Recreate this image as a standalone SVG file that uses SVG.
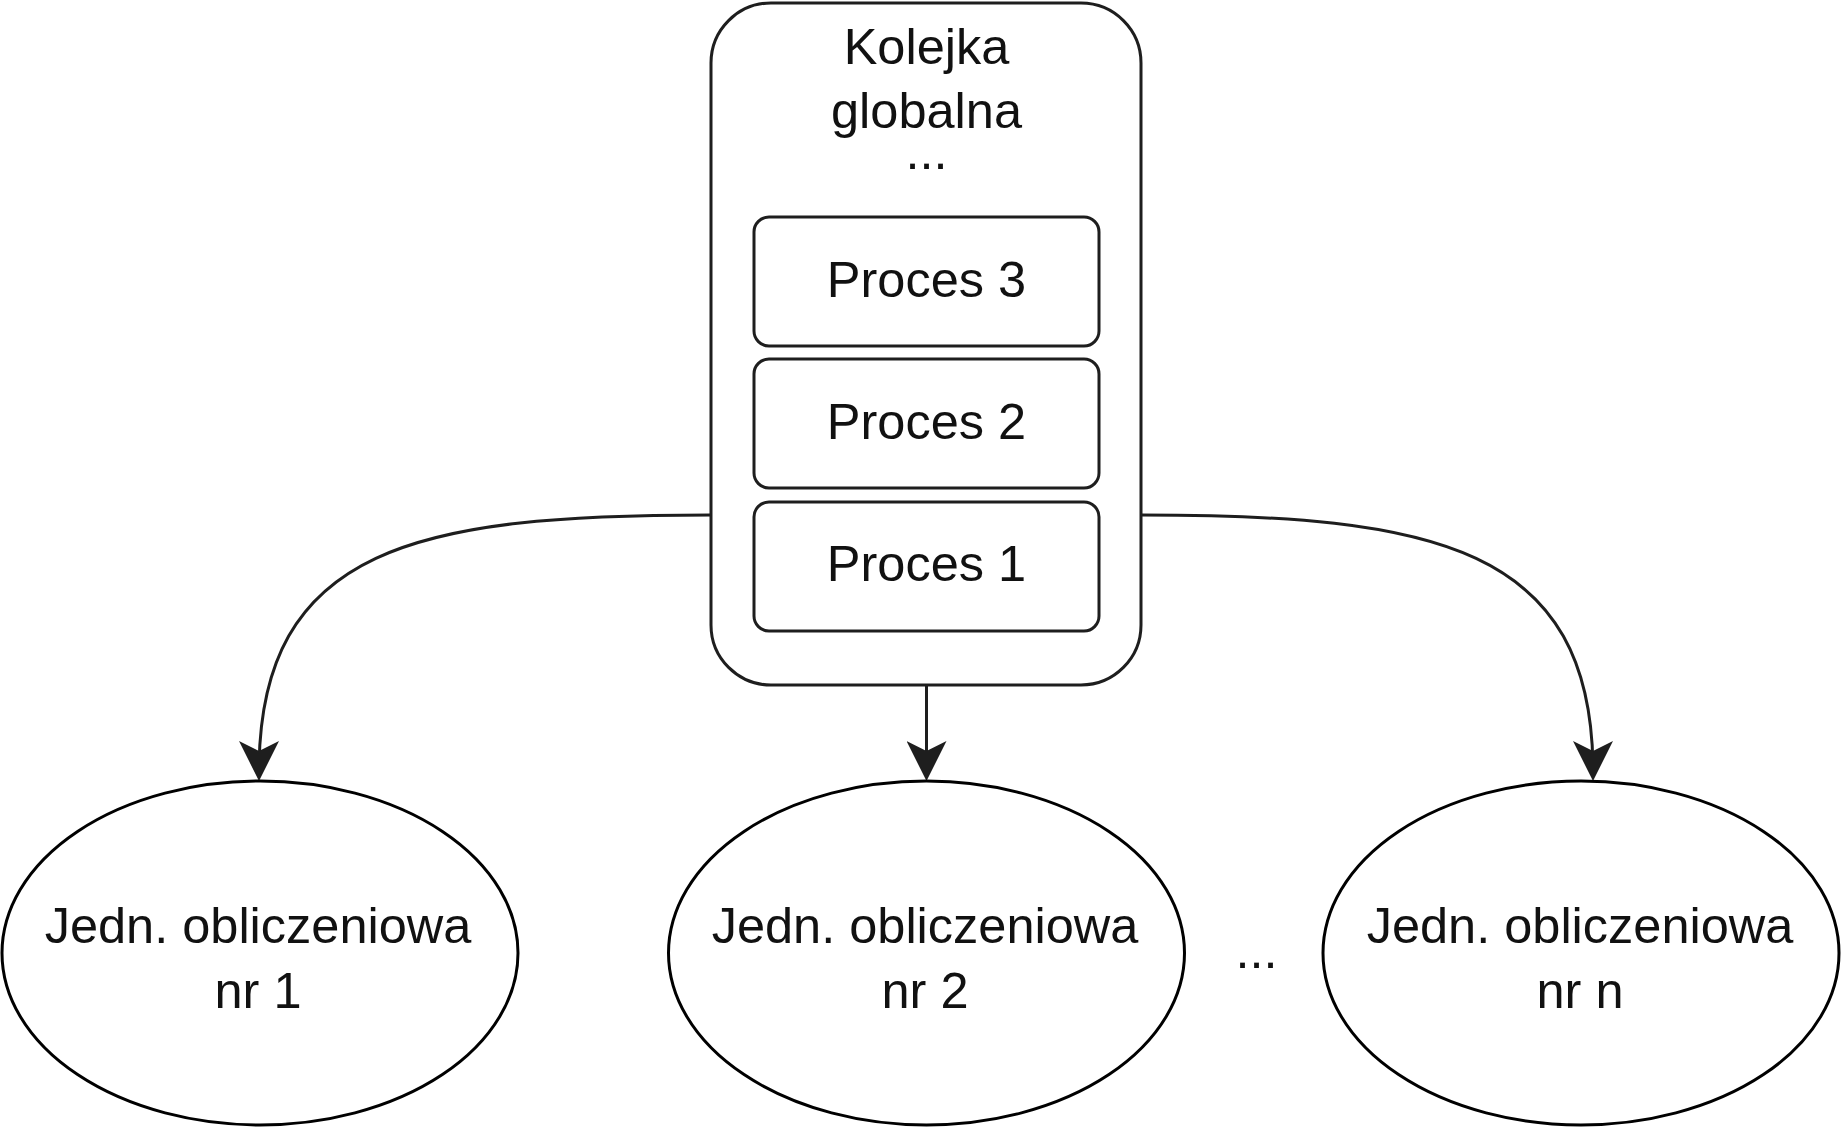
<svg xmlns="http://www.w3.org/2000/svg" width="1842" height="1128" viewBox="0 0 1842 1128">
  <style>
    .box { fill: #ffffff; stroke: #1e1e1e; stroke-width: 3; }
    .ell { fill: #ffffff; stroke: #000000; stroke-width: 3; }
    .edge { fill: none; stroke: #1e1e1e; stroke-width: 3; }
    .t { font-family: "Liberation Sans", Arial, sans-serif; font-size: 50.5px; fill: #111111; text-anchor: middle; }
  </style>
  <defs>
    <marker id="arrow" markerUnits="userSpaceOnUse" viewBox="0 0 40 40" markerWidth="40" markerHeight="40" refX="31" refY="20" orient="auto">
      <path d="M40,20 L0,0 L10,20 L0,40 Z" fill="#1e1e1e"/>
    </marker>
  </defs>
  <rect width="1842" height="1128" fill="#ffffff"/>

  <g id="queue">
    <rect class="box" x="711" y="3" width="430" height="682" rx="60" ry="60"/>
    <text class="t"><tspan x="926.5" y="64">Kolejka</tspan><tspan x="926.5" y="128">globalna</tspan><tspan x="926.5" y="169">...</tspan></text>
  </g>
  <g id="proces3">
    <rect class="box" x="754" y="217" width="345" height="129" rx="15" ry="15"/>
    <text class="t" x="926.5" y="297">Proces 3</text>
  </g>
  <g id="proces2">
    <rect class="box" x="754" y="359" width="345" height="129" rx="15" ry="15"/>
    <text class="t" x="926.5" y="439">Proces 2</text>
  </g>
  <g id="proces1">
    <rect class="box" x="754" y="502" width="345" height="129" rx="15" ry="15"/>
    <text class="t" x="926.5" y="581">Proces 1</text>
  </g>

  <g id="connectors">
    <path class="edge" d="M711,515 C420,515 259,545 259,772" marker-end="url(#arrow)"/>
    <path class="edge" d="M926.5,685 L926.5,772" marker-end="url(#arrow)"/>
    <path class="edge" d="M1141,515 C1432,515 1593,545 1593,772" marker-end="url(#arrow)"/>
  </g>

  <g id="unit1">
    <ellipse class="ell" cx="260" cy="953" rx="258" ry="172"/>
    <text class="t" x="258" y="943">Jedn. obliczeniowa</text>
    <text class="t" x="258" y="1008">nr 1</text>
  </g>
  <g id="unit2">
    <ellipse class="ell" cx="926.5" cy="953" rx="258" ry="172"/>
    <text class="t" x="925" y="943">Jedn. obliczeniowa</text>
    <text class="t" x="925" y="1008">nr 2</text>
  </g>
  <g id="unitn">
    <ellipse class="ell" cx="1581" cy="953" rx="258" ry="172"/>
    <text class="t" x="1580" y="943">Jedn. obliczeniowa</text>
    <text class="t" x="1580" y="1008">nr n</text>
  </g>
  <g id="ellipsis">
    <text class="t" x="1256.5" y="968">...</text>
  </g>
</svg>
